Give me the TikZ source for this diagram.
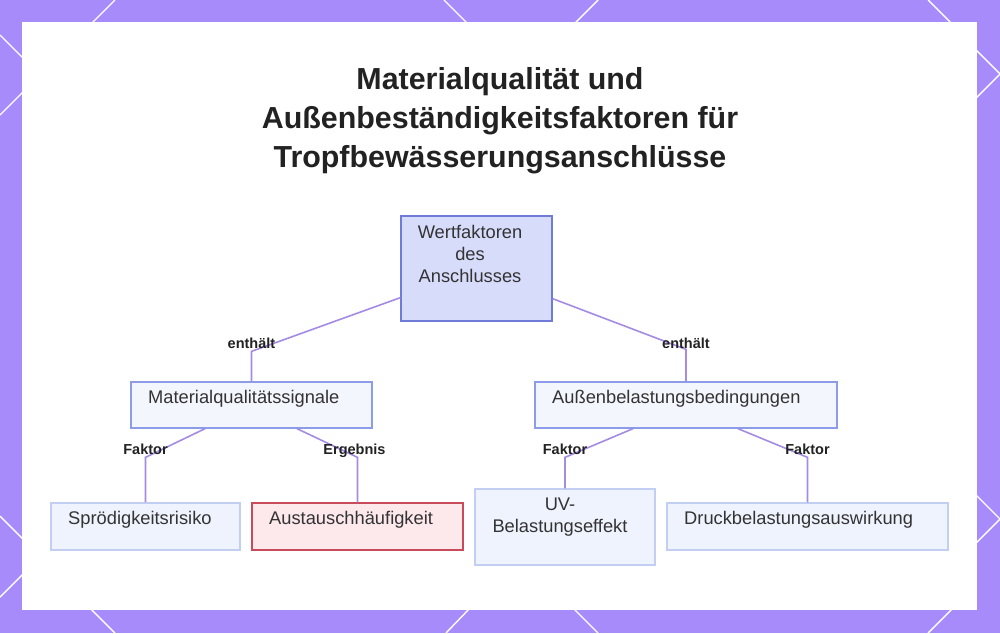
\documentclass[tikz,border=0pt]{standalone}
\usepackage{fontspec}
\setmainfont{Liberation Sans}
\usepackage{xcolor}
\usepackage{tikz}

\definecolor{bgviolet}{HTML}{A78BFA}
\definecolor{rootfill}{HTML}{D8DCFB}
\definecolor{rootline}{HTML}{6F7BD6}
\definecolor{midfill}{HTML}{F4F6FE}
\definecolor{midline}{HTML}{8C9CE8}
\definecolor{leaffill}{HTML}{EFF3FD}
\definecolor{leafline}{HTML}{C3CEF3}
\definecolor{alertfill}{HTML}{FDE8EC}
\definecolor{alertline}{HTML}{C94A5A}
\definecolor{linkviolet}{HTML}{A48BE3}
\definecolor{textgray}{HTML}{333333}
\definecolor{titlegray}{HTML}{222222}

\tikzset{
  box/.style={rectangle, draw=midline, fill=midfill, line width=1.3pt, inner sep=0pt},
  rootbox/.style={box, draw=rootline, fill=rootfill},
  leafbox/.style={box, draw=leafline, fill=leaffill},
  alertbox/.style={box, draw=alertline, fill=alertfill},
  txt/.style={inner sep=0pt, text=textgray, font=\fontsize{18.3}{22}\selectfont},
  tag/.style={inner sep=0pt, text=titlegray, font=\bfseries\fontsize{14.5}{16}\selectfont},
  link/.style={draw=linkviolet, line width=1.6pt},
  deco/.style={draw=white, line width=1.4pt}
}

\begin{document}
\begin{tikzpicture}[x=1pt, y=-1pt]
  \useasboundingbox (0,0) rectangle (1000,633);
  \fill[bgviolet] (0,0) rectangle (1000,633);

  % white strokes on the border
  \foreach \xa/\ya/\xb/\yb in {115/0/90/25, 444/0/470/26, 598/0/573/25, 928/0/953/25,
      90/608/115/633, 470/608/446/633, 573/608/598/633, 953/608/928/633,
      0/35/25/60, 25/90/0/115, 0/516/25/541, 25/572/0/597,
      974/48/1000/74, 1000/74/974/100, 974/493/1000/519, 1000/519/974/545}
    \draw[deco] (\xa,\ya) -- (\xb,\yb);

  \fill[white] (22,22) rectangle (977,610);

  \node[align=center, text=titlegray, font=\bfseries\fontsize{30.4}{39}\selectfont] (title) at (500,121)
    {Materialqualität und\\Außenbeständigkeitsfaktoren für\\Tropfbewässerungsanschlüsse};

  % boxes
  \node[rootbox, minimum width=151pt, minimum height=105pt] (root) at (476.5,268.5) {};
  \node[box, minimum width=241pt, minimum height=46pt] (mat) at (251.5,405) {};
  \node[box, minimum width=302pt, minimum height=46pt] (aus) at (686,405) {};
  \node[leafbox, minimum width=189pt, minimum height=47pt] (spr) at (145.5,526.5) {};
  \node[alertbox, minimum width=211pt, minimum height=47pt] (ers) at (357.5,526.5) {};
  \node[leafbox, minimum width=180pt, minimum height=76pt] (uv) at (565,527) {};
  \node[leafbox, minimum width=281pt, minimum height=47pt] (dru) at (807.5,526.5) {};

  % connectors
  \draw[link] ([yshift=24pt]root.south west) -- ([yshift=30pt]mat.north)
    node[tag, yshift=8pt] {enthält} -- (mat.north);
  \draw[link] ([yshift=23pt]root.south east) -- ([yshift=32pt]aus.north)
    node[tag, yshift=6pt] {enthält} -- (aus.north);
  \draw[link] ([xshift=-46.5pt]mat.south) -- ([yshift=45pt]spr.north)
    node[tag, yshift=8pt] {Faktor} -- (spr.north);
  \draw[link] ([xshift=45.5pt]mat.south) -- ([yshift=45pt]ers.north)
    node[tag, yshift=7pt, xshift=-3pt] {Ergebnis} -- (ers.north);
  \draw[link] ([xshift=-53pt]aus.south) -- ([yshift=31pt]uv.north)
    node[tag, yshift=8pt] {Faktor} -- (uv.north);
  \draw[link] ([xshift=52pt]aus.south) -- ([yshift=45pt]dru.north)
    node[tag, yshift=8pt] {Faktor} -- (dru.north);

  % box texts
  \node[txt, align=center] (rootT) at (470,254) {Wertfaktoren\\des\\Anschlusses};
  \node[txt, anchor=west] (matT) at (148,399) {Materialqualitätssignale};
  \node[txt, anchor=west] (ausT) at (552,399) {Außenbelastungsbedingungen};
  \node[txt, anchor=west] (sprT) at (68,520) {Sprödigkeitsrisiko};
  \node[txt, anchor=west] (ersT) at (269,520) {Austauschhäufigkeit};
  \node[txt, align=center] (uvT) at (560,517) {UV-\\Belastungseffekt};
  \node[txt, anchor=west] (druT) at (684,520) {Druckbelastungsauswirkung};
\end{tikzpicture}
\end{document}
